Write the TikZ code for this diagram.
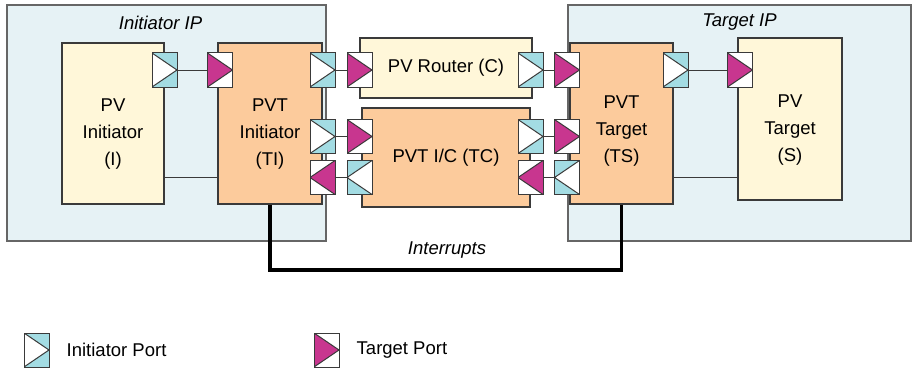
\documentclass[tikz,border=0pt]{standalone}
\usepackage{fontspec}
\setmainfont{Liberation Sans}
\usetikzlibrary{positioning}
\definecolor{ipblue}{HTML}{E6F2F5}
\definecolor{pvcream}{HTML}{FFF7D9}
\definecolor{pvtorange}{HTML}{FCCB9C}
\definecolor{portcyan}{HTML}{A3DCE3}
\definecolor{portpink}{HTML}{C8368F}
\definecolor{lineg}{HTML}{3A3A3A}

% triangle inside a port: fill colour, then three corners
\newcommand{\porttri}[4]{%
  \fill[#1] (path picture bounding box.#2) -- (path picture bounding box.#3)
    -- (path picture bounding box.#4) -- cycle;
  \draw[lineg, line width=1pt] (path picture bounding box.#2)
    -- (path picture bounding box.#3) -- (path picture bounding box.#4);}

\tikzset{
  txt/.style={font=\fontsize{18.5}{27}\selectfont, align=center},
  ipbox/.style={draw=black!60, line width=1.2pt, fill=ipblue},
  pvbox/.style={draw=lineg, line width=1.5pt, fill=pvcream},
  pvtbox/.style={draw=lineg, line width=1.5pt, fill=pvtorange},
  port/.style={draw=lineg, line width=1pt, minimum width=25pt, minimum height=34pt, inner sep=0pt},
  iportR/.style={port, fill=portcyan, path picture={\porttri{white}{north west}{east}{south west}}},
  iportL/.style={port, fill=portcyan, path picture={\porttri{white}{north east}{west}{south east}}},
  tportR/.style={port, fill=white, path picture={\porttri{portpink}{north west}{east}{south west}}},
  tportL/.style={port, fill=white, path picture={\porttri{portpink}{north east}{west}{south east}}},
  wire/.style={draw=lineg, line width=1pt}
}

\begin{document}
\begin{tikzpicture}[x=1pt, y=-1pt, every node/.style={txt}]
  \useasboundingbox (0,0) rectangle (915,369);

  % IP blocks
  \node[ipbox, minimum width=319pt, minimum height=236pt,
    label={[txt, anchor=center, yshift=-18pt, xshift=-6pt]north:\textit{Initiator IP}}] (initip) at (166.5,123) {};
  \node[ipbox, minimum width=343pt, minimum height=236pt,
    label={[txt, anchor=center, yshift=-18pt]north:\textit{Target IP}}] (targip) at (739.5,123) {};

  % Initiator side
  \node[pvbox, minimum width=102pt, minimum height=161pt,
    label={[txt, yshift=-11pt]center:{PV\\Initiator\\(I)}}] (pvi) at (113,123.5) {};
  \node[pvtbox, minimum width=104pt, minimum height=161pt,
    label={[txt, yshift=-11pt]center:{PVT\\Initiator\\(TI)}}] (pvti) at (270,123.5) {};

  % Interconnect
  \node[pvbox, minimum width=172pt, minimum height=60pt] (router) at (446,68) {PV Router (C)};
  \node[pvtbox, minimum width=168pt, minimum height=99pt] (pvtic) at (446,157.5) {PVT I/C (TC)};

  % Target side
  \node[pvtbox, minimum width=103pt, minimum height=161pt,
    label={[txt, yshift=-8pt]center:{PVT\\Target\\(TS)}}] (pvtt) at (621.5,123.5) {};
  \node[pvbox, minimum width=104pt, minimum height=162pt,
    label={[txt, yshift=-11pt]center:{PV\\Target\\(S)}}] (pvt) at (790,119) {};

  % Ports, top row
  \node[iportR] (pvi-i) at (164.5,70) {};
  \node[tportR] (pvti-t) at (220,70) {};
  \node[iportR] (pvti-i1) at (322.5,70) {};
  \node[tportR] (rt-t) at (359.5,70) {};
  \node[iportR] (rt-i) at (530.5,70) {};
  \node[tportR] (pvtt-t1) at (567,70) {};
  \node[iportR] (pvtt-i) at (675.5,70) {};
  \node[tportR] (pvt-t) at (740,70) {};

  % Ports, middle row
  \node[iportR] (pvti-i2) at (322.5,136.5) {};
  \node[tportR] (ic-t1) at (359.5,136.5) {};
  \node[iportR] (ic-i1) at (530.5,136.5) {};
  \node[tportR] (pvtt-t2) at (567,136.5) {};

  % Ports, bottom row (pointing back)
  \node[tportL] (pvti-t2) at (322.5,177.5) {};
  \node[iportL] (ic-i2) at (359.5,177.5) {};
  \node[tportL] (ic-t2) at (530.5,177.5) {};
  \node[iportL] (pvtt-i2) at (567,177.5) {};

  % Port links
  \draw[wire] (pvi-i) -- (pvti-t);
  \draw[wire] (pvti-i1) -- (rt-t);
  \draw[wire] (rt-i) -- (pvtt-t1);
  \draw[wire] (pvtt-i) -- (pvt-t);
  \draw[wire] (pvti-i2) -- (ic-t1);
  \draw[wire] (ic-i1) -- (pvtt-t2);
  \draw[wire] (pvti-t2) -- (ic-i2);
  \draw[wire] (ic-t2) -- (pvtt-i2);

  % Side-band links
  \draw[wire] (pvi.east |- pvti-t2) -- (pvti.west |- pvti-t2);
  \draw[wire] (pvtt.east |- pvtt-i2) -- (pvt.west |- pvtt-i2);

  % Interrupts
  \coordinate (irqbus) at (446,270);
  \draw[line width=3.5pt] (pvti.south) |- (irqbus) -| (pvtt.south);
  \node[txt] (irqlbl) at (447,250) {\textit{Interrupts}};

  % Legend
  \node[iportR] (legi) at (36.5,350) {};
  \node[txt, inner sep=0pt, right=17pt of legi] (legitxt) {Initiator Port};
  \node[tportR] (legt) at (326.5,350) {};
  \node[txt, inner sep=0pt, right=17pt of legt] (legttxt) {Target Port};
\end{tikzpicture}
\end{document}
